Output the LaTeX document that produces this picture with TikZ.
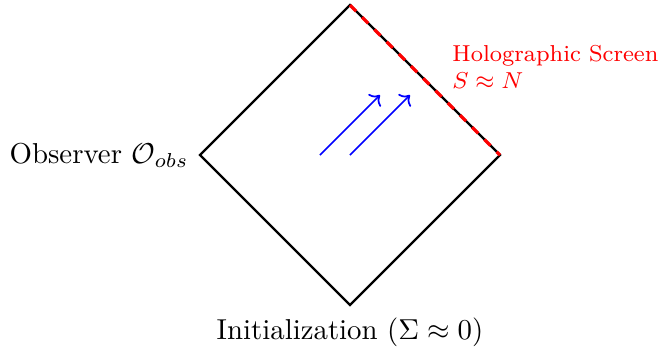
\documentclass[tikz,border=0pt]{standalone}
\usetikzlibrary{arrows.meta,positioning,calc}
\tikzset{edge/.style={draw=black,thick},screen/.style={draw=red,line width=1.1pt,dashed},flow/.style={->,draw=blue,semithick},label/.style={align=center},redlabel/.style={font=\footnotesize,text=red,align=left,anchor=north west}}

\begin{document}
\begin{tikzpicture}[x=0.915cm,y=0.915cm]
\useasboundingbox (-4.667,-2.587) rectangle (4.12,2.067);
\coordinate (left) at (-2,0);\coordinate (top) at (0,2);\coordinate (right) at (2,0);\coordinate (bottom) at (0,-2);
\draw[edge] (left)--(top)--(right)--(bottom)--cycle;
\draw[screen] (top)--(right);
\node[label,left=0.5pt of left] (obs) {Observer $\mathcal{O}_{obs}$};
\node[label,below=1pt of bottom] (init) {Initialization ($\Sigma\approx 0$)};
\node[redlabel] (holo) at (1.23,1.6) {Holographic Screen\\$S\approx N$};
\coordinate (a1) at (-0.4,0);\coordinate (b1) at (0.4,0.8);
\coordinate (a2) at (0,0);\coordinate (b2) at (0.8,0.8);
\draw[flow] (a1)--(b1);\draw[flow] (a2)--(b2);
\end{tikzpicture}
\end{document}
